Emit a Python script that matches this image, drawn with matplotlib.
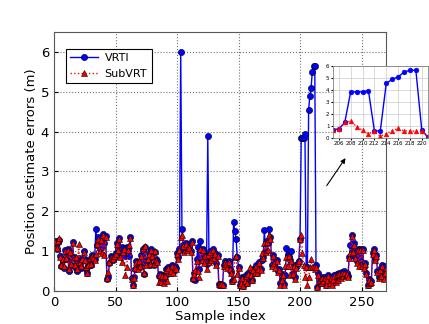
import numpy as np
import matplotlib
matplotlib.use("Agg")
import matplotlib.pyplot as plt

# position error per sample (m)
vrti = [
    1.08, 1.25, 1.05, 1.22, 1.28, 0.88, 0.62, 0.78, 0.58, 1.02,
    0.80, 1.05, 0.50, 0.95, 0.65, 1.22, 0.85, 0.60, 0.80, 0.50,
    0.82, 0.70, 0.58, 0.78, 1.00, 0.80, 0.55, 0.45, 0.62, 0.80,
    0.65, 0.90, 0.85, 0.80, 1.55, 1.15, 1.35, 1.05, 1.25, 1.10,
    1.42, 1.20, 1.38, 0.30, 0.35, 0.70, 0.88, 0.80, 0.78, 0.85,
    0.95, 1.20, 1.05, 1.33, 0.90, 1.10, 0.95, 1.08, 0.88, 1.10,
    1.05, 0.88, 1.35, 0.33, 0.15, 0.35, 0.55, 0.75, 0.58, 0.72,
    0.60, 0.90, 1.05, 0.42, 1.10, 0.68, 0.78, 0.95, 0.65, 1.05,
    0.85, 0.65, 0.98, 0.80, 0.75, 0.38, 0.42, 0.25, 0.40, 0.30,
    0.40, 0.55, 0.42, 0.60, 0.48, 0.52, 0.65, 0.48, 0.62, 0.58,
    0.95, 0.85, 1.05, 6.00, 1.55, 1.15, 1.00, 1.20, 1.05, 1.15,
    1.10, 1.00, 1.25, 0.30, 0.45, 0.28, 0.80, 1.10, 0.55, 1.25,
    0.80, 1.05, 0.72, 0.90, 0.68, 3.88, 0.75, 1.00, 0.80, 1.05,
    0.85, 0.95, 0.70, 0.90, 0.18, 0.15, 0.18, 0.15, 0.65, 0.75,
    0.70, 0.60, 0.75, 0.55, 0.48, 0.25, 1.73, 1.51, 1.31, 0.85,
    0.61, 0.15, 0.22, 0.35, 0.12, 0.25, 0.40, 0.20, 0.45, 0.30,
    0.42, 0.28, 0.55, 0.48, 0.65, 0.45, 0.58, 0.72, 0.55, 0.78,
    0.85, 1.52, 1.00, 1.25, 1.20, 1.56, 1.36, 0.65, 0.90, 0.72,
    0.60, 0.78, 0.50, 0.55, 0.20, 0.30, 0.42, 0.18, 0.40, 1.08,
    0.90, 0.85, 0.78, 1.01, 0.45, 0.65, 0.35, 0.60, 0.70, 0.75,
    1.30, 3.85, 3.85, 3.85, 3.95, 0.60, 0.60, 4.55, 4.90, 5.10,
    5.50, 5.65, 5.65, 0.65, 0.10, 0.45, 0.30, 0.20, 0.35, 0.25,
    0.35, 0.15, 0.30, 0.40, 0.22, 0.35, 0.18, 0.30, 0.40, 0.25,
    0.42, 0.30, 0.45, 0.35, 0.48, 0.40, 0.50, 0.42, 0.45, 0.38,
    0.85, 1.15, 1.40, 1.00, 1.20, 0.85, 0.75, 1.05, 0.80, 1.05,
    0.65, 1.05, 0.60, 0.70, 0.45, 0.15, 0.30, 0.20, 0.25, 0.95,
    1.05, 0.80, 0.90, 0.50, 0.35, 0.55, 0.40, 0.65, 0.35, 0.52, 0.62,
]
subvrt = [
    1.10, 1.22, 1.08, 1.25, 1.32, 0.85, 0.65, 0.80, 0.62, 1.00,
    0.82, 1.02, 0.55, 0.98, 0.68, 1.20, 0.82, 0.65, 0.85, 0.55,
    1.18, 0.72, 0.62, 0.80, 0.98, 0.78, 0.60, 0.45, 0.65, 0.82,
    0.68, 0.88, 0.82, 0.78, 0.92, 1.18, 1.30, 1.00, 1.28, 0.95,
    1.40, 0.90, 1.35, 0.32, 0.48, 0.72, 0.85, 0.82, 0.80, 0.88,
    0.92, 1.18, 1.02, 1.30, 0.85, 0.72, 0.98, 1.05, 0.40, 0.60,
    1.02, 1.15, 1.32, 0.30, 0.15, 0.32, 0.58, 0.72, 0.55, 0.75,
    0.62, 0.88, 1.08, 0.45, 1.12, 0.65, 0.80, 0.92, 0.68, 1.02,
    0.88, 0.68, 1.00, 0.78, 0.72, 0.22, 0.40, 0.22, 0.38, 0.20,
    0.38, 0.52, 0.25, 0.58, 0.45, 0.50, 0.62, 0.45, 0.60, 0.55,
    0.92, 0.80, 1.02, 1.35, 1.40, 1.12, 0.98, 1.18, 1.02, 1.10,
    1.08, 0.98, 1.22, 0.32, 0.42, 0.52, 0.75, 0.50, 0.35, 1.05,
    0.78, 1.02, 0.70, 0.88, 0.55, 0.90, 0.72, 0.98, 0.78, 1.02,
    0.82, 0.92, 0.65, 0.88, 0.18, 0.15, 0.18, 0.15, 0.62, 0.72,
    0.68, 0.58, 0.72, 0.55, 0.45, 0.25, 0.30, 0.85, 0.88, 0.42,
    0.58, 0.15, 0.20, 0.32, 0.12, 0.25, 0.38, 0.20, 0.42, 0.60,
    0.40, 0.28, 0.52, 0.45, 0.62, 0.45, 0.55, 0.70, 0.52, 0.95,
    0.82, 1.20, 0.98, 1.22, 1.02, 1.40, 1.30, 0.62, 0.88, 0.70,
    0.58, 0.75, 0.48, 0.52, 0.15, 0.28, 0.40, 0.15, 0.62, 0.85,
    0.62, 0.88, 0.40, 0.75, 0.42, 0.62, 0.30, 0.58, 0.70, 0.75,
    1.30, 1.40, 0.95, 0.65, 0.35, 0.60, 0.15, 0.35, 0.60, 0.80,
    0.60, 0.60, 0.55, 0.60, 0.10, 0.40, 0.28, 0.20, 0.32, 0.25,
    0.32, 0.15, 0.28, 0.38, 0.20, 0.32, 0.15, 0.28, 0.38, 0.22,
    0.40, 0.28, 0.42, 0.32, 0.45, 0.38, 0.45, 0.40, 0.42, 0.35,
    0.82, 0.95, 1.38, 0.98, 1.15, 0.82, 0.70, 1.02, 0.62, 1.02,
    0.62, 1.02, 0.58, 0.68, 0.42, 0.15, 0.28, 0.20, 0.22, 0.92,
    1.02, 0.78, 0.88, 0.48, 0.32, 0.52, 0.38, 0.62, 0.30, 0.45, 0.58,
]
assert len(vrti) == len(subvrt) == 271

samples = np.arange(len(vrti))

# zoomed part (inset is labelled with its own index, 7 ahead of the main axis)
zoom_start, zoom_end = 198, 215
zoom_label_offset = 7

fig = plt.figure(figsize=(4.29, 3.24), dpi=100)
ax = fig.add_axes([0.126, 0.102, 0.774, 0.799])

ax.plot(samples, vrti, 'b-o', lw=1, ms=4.5, mec='k', mew=0.4, label='VRTI')
ax.plot(samples, subvrt, 'r:^', lw=1, ms=4.5, mec='k', mew=0.4, label='SubVRT')

ax.set_xlim(0, 270)
ax.set_ylim(0, 6.5)
ax.set_xticks([0, 50, 100, 150, 200, 250])
ax.set_yticks([0, 1, 2, 3, 4, 5, 6])
ax.grid(True, color='0.45', linestyle=':', linewidth=0.8)
ax.tick_params(labelsize=9.5, direction='in', length=3)
ax.set_xlabel('Sample index', fontsize=9.5, labelpad=1)
ax.set_ylabel('Position estimate errors (m)', fontsize=9.5, labelpad=2)
for s in ax.spines.values():
    s.set_color('0.35')

leg = ax.legend(loc='upper left', bbox_to_anchor=(0.035, 0.935), fontsize=8,
                fancybox=False, framealpha=1, borderpad=0.4, handlelength=2.5,
                handletextpad=0.6, borderaxespad=0)
leg.get_frame().set_edgecolor('k')
leg.get_frame().set_linewidth(0.8)

# inset
axin = fig.add_axes([0.776, 0.574, 0.221, 0.222])
zx = samples[zoom_start:zoom_end] + zoom_label_offset
axin.plot(zx, vrti[zoom_start:zoom_end], 'b-o', lw=1, ms=3.5, mec='b', mew=0.3)
axin.plot(zx, subvrt[zoom_start:zoom_end], 'r:^', lw=1, ms=3.5, mec='r', mew=0.3)
axin.set_xlim(205, 221)
axin.set_ylim(0, 6)
axin.set_xticks(np.arange(206, 221, 2))
axin.set_yticks(np.arange(0, 7))
axin.grid(True, color='0.8', linestyle='-', linewidth=0.5)
axin.tick_params(labelsize=4, length=1.5, pad=1)
for s in axin.spines.values():
    s.set_color('0.5')
    s.set_linewidth(0.6)

ax.annotate('', xy=(0.809, 0.519), xycoords='figure fraction',
            xytext=(0.758, 0.420), textcoords='figure fraction',
            arrowprops=dict(arrowstyle='-|>', color='k', lw=0.8,
                            mutation_scale=7))

fig.savefig('out.png', dpi=100)
